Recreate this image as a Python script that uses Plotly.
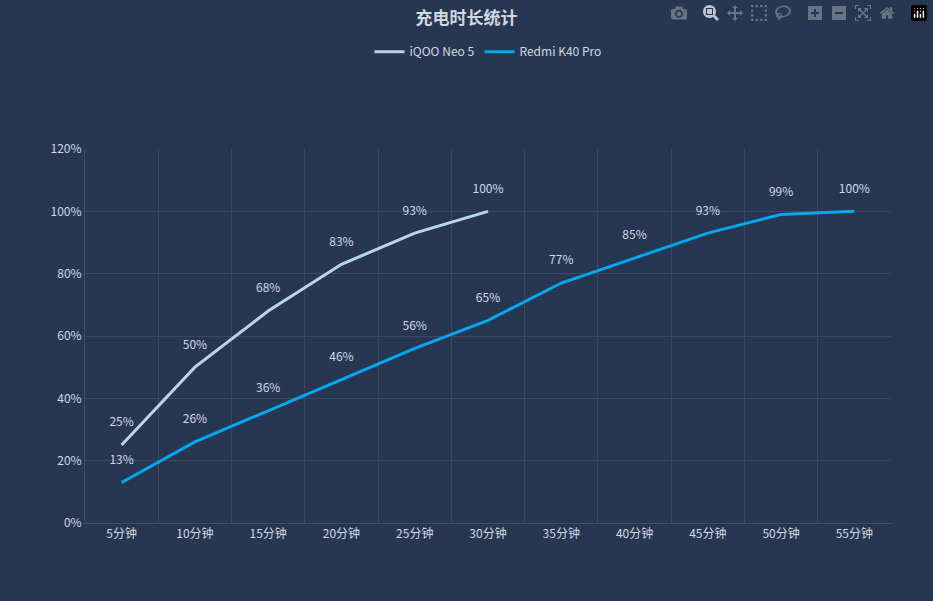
import plotly.graph_objects as go

categories = ['5分钟', '10分钟', '15分钟', '20分钟', '25分钟', '30分钟',
              '35分钟', '40分钟', '45分钟', '50分钟', '55分钟']
iqoo = [25, 50, 68, 83, 93, 100]
redmi = [13, 26, 36, 46, 56, 65, 77, 85, 93, 99, 100]

font = "Microsoft YaHei, Noto Sans CJK SC, sans-serif"
fig = go.Figure()
fig.add_trace(go.Scatter(
    x=list(range(len(iqoo))), y=iqoo, name='iQOO Neo 5', mode='lines+text',
    line=dict(color='#b8d4f0', width=3), text=[f'{v}%<br> ' for v in iqoo],
    textposition='top center', textfont=dict(color='#d0d8e4', size=12)))
fig.add_trace(go.Scatter(
    x=list(range(len(redmi))), y=redmi, name='Redmi K40 Pro', mode='lines+text',
    line=dict(color='#00a8f0', width=3), text=[f'{v}%<br> ' for v in redmi],
    textposition='top center', textfont=dict(color='#d0d8e4', size=12)))

fig.update_layout(
    width=933, height=601, paper_bgcolor='#283751', plot_bgcolor='#283751',
    font=dict(family=font, color='#d0d8e4', size=12),
    title=dict(text='<b>充电时长统计</b>', x=0.5, y=0.97, xanchor='center', yanchor='middle',
               font=dict(size=17, color='#d0d8e4')),
    legend=dict(orientation='h', x=0.5, xanchor='center', y=1.26, yanchor='middle',
                font=dict(size=12), itemwidth=30),
    margin=dict(l=85, r=42, t=149, b=78),
    xaxis=dict(range=[-0.5, 10.5], tickvals=list(range(len(categories))),
               ticktext=categories, showgrid=False, zeroline=False,
               showline=True, linecolor='#3f4e66',
               minor=dict(tickvals=[i + 0.5 for i in range(-1, 11)],
                          showgrid=True, gridcolor='#3a4960')),
    yaxis=dict(range=[0, 120], dtick=20, ticksuffix='%', gridcolor='#3a4960',
               zeroline=False, showline=True, linecolor='#3f4e66'),
)
fig.write_html("out.html", post_script="document.body.style.margin='0';")
